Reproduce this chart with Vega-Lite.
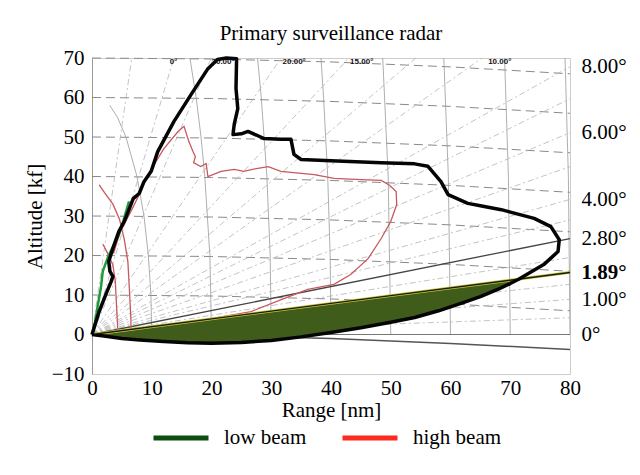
{
  "$schema": "https://vega.github.io/schema/vega-lite/v6.json",
  "width": 478,
  "height": 316,
  "padding": {"left": 24, "top": 23, "right": 5, "bottom": 5},
  "background": "white",
  "title": {"text": "Primary surveillance radar", "font": "Liberation Serif", "fontSize": 21, "fontWeight": "normal", "color": "#000000", "offset": 3},
  "config": {
    "view": {"stroke": "#cccccc", "strokeWidth": 1},
    "axis": {"labelFont": "Liberation Serif", "titleFont": "Liberation Serif", "labelFontSize": 21, "titleFontSize": 21, "titleFontWeight": "normal", "labelColor": "#000000", "titleColor": "#000000", "grid": false}
  },
  "datasets": {
    "alt": [
      {"h": 10, "x": 0, "y": 10}, {"h": 10, "x": 20, "y": 9.75}, {"h": 10, "x": 40, "y": 9}, {"h": 10, "x": 60, "y": 7.75}, {"h": 10, "x": 80, "y": 6},
      {"h": 20, "x": 0, "y": 20}, {"h": 20, "x": 20, "y": 19.75}, {"h": 20, "x": 40, "y": 19}, {"h": 20, "x": 60, "y": 17.75}, {"h": 20, "x": 80, "y": 16},
      {"h": 30, "x": 0, "y": 30}, {"h": 30, "x": 20, "y": 29.75}, {"h": 30, "x": 40, "y": 29}, {"h": 30, "x": 60, "y": 27.75}, {"h": 30, "x": 80, "y": 26},
      {"h": 40, "x": 0, "y": 40}, {"h": 40, "x": 20, "y": 39.75}, {"h": 40, "x": 40, "y": 39}, {"h": 40, "x": 60, "y": 37.75}, {"h": 40, "x": 80, "y": 36},
      {"h": 50, "x": 0, "y": 50}, {"h": 50, "x": 20, "y": 49.75}, {"h": 50, "x": 40, "y": 49}, {"h": 50, "x": 60, "y": 47.75}, {"h": 50, "x": 80, "y": 46},
      {"h": 60, "x": 0, "y": 60}, {"h": 60, "x": 20, "y": 59.75}, {"h": 60, "x": 40, "y": 59}, {"h": 60, "x": 60, "y": 57.75}, {"h": 60, "x": 80, "y": 56},
      {"h": 70, "x": 0, "y": 70}, {"h": 70, "x": 20, "y": 69.75}, {"h": 70, "x": 40, "y": 69}, {"h": 70, "x": 60, "y": 67.75}, {"h": 70, "x": 80, "y": 66}
    ],
    "arcs": [
      {"r": 10, "x": 10, "y": 0}, {"r": 10, "x": 9.86, "y": 10}, {"r": 10, "x": 9.43, "y": 20}, {"r": 10, "x": 8.7, "y": 30}, {"r": 10, "x": 7.53, "y": 40}, {"r": 10, "x": 5.68, "y": 50}, {"r": 10, "x": 4.25, "y": 55}, {"r": 10, "x": 2.98, "y": 58},
      {"r": 20, "x": 20, "y": 0}, {"r": 20, "x": 19.73, "y": 20}, {"r": 20, "x": 18.88, "y": 40}, {"r": 20, "x": 18.25, "y": 50}, {"r": 20, "x": 17.43, "y": 60}, {"r": 20, "x": 16.39, "y": 70},
      {"r": 30, "x": 30, "y": 0}, {"r": 30, "x": 29.82, "y": 20}, {"r": 30, "x": 29.27, "y": 40}, {"r": 30, "x": 28.33, "y": 60}, {"r": 30, "x": 27.71, "y": 70},
      {"r": 40, "x": 40, "y": 0}, {"r": 40, "x": 39.86, "y": 20}, {"r": 40, "x": 39.45, "y": 40}, {"r": 40, "x": 38.76, "y": 60}, {"r": 40, "x": 38.32, "y": 70},
      {"r": 50, "x": 50, "y": 0}, {"r": 50, "x": 49.57, "y": 40}, {"r": 50, "x": 48.66, "y": 70},
      {"r": 60, "x": 60, "y": 0}, {"r": 60, "x": 59.64, "y": 40}, {"r": 60, "x": 58.88, "y": 70},
      {"r": 70, "x": 70, "y": 0}, {"r": 70, "x": 69.69, "y": 40}, {"r": 70, "x": 69.05, "y": 70},
      {"r": 80, "x": 80, "y": 0}, {"r": 80, "x": 79.73, "y": 40}, {"r": 80, "x": 79.17, "y": 70}
    ],
    "fan": [
      {"a": 0.5, "x": 0, "y": 0}, {"a": 0.5, "x": 80, "y": 4.24},
      {"a": 1, "x": 0, "y": 0}, {"a": 1, "x": 80, "y": 8.9},
      {"a": 1.5, "x": 0, "y": 0}, {"a": 1.5, "x": 80, "y": 12.7},
      {"a": 2.3, "x": 0, "y": 0}, {"a": 2.3, "x": 80, "y": 19.5},
      {"a": 3.4, "x": 0, "y": 0}, {"a": 3.4, "x": 80, "y": 29},
      {"a": 4, "x": 0, "y": 0}, {"a": 4, "x": 80, "y": 34.2},
      {"a": 5, "x": 0, "y": 0}, {"a": 5, "x": 80, "y": 42.5},
      {"a": 6, "x": 0, "y": 0}, {"a": 6, "x": 80, "y": 51.1},
      {"a": 7, "x": 0, "y": 0}, {"a": 7, "x": 80, "y": 59.7},
      {"a": 8, "x": 0, "y": 0}, {"a": 8, "x": 80, "y": 67.8},
      {"a": 10, "x": 0, "y": 0}, {"a": 10, "x": 65.3, "y": 70},
      {"a": 12, "x": 0, "y": 0}, {"a": 12, "x": 54.2, "y": 70},
      {"a": 15, "x": 0, "y": 0}, {"a": 15, "x": 43, "y": 70},
      {"a": 20, "x": 0, "y": 0}, {"a": 20, "x": 31.65, "y": 70},
      {"a": 30, "x": 0, "y": 0}, {"a": 30, "x": 19.96, "y": 70},
      {"a": 40, "x": 0, "y": 0}, {"a": 40, "x": 13.7, "y": 70},
      {"a": 60, "x": 0, "y": 0}, {"a": 60, "x": 6.65, "y": 70}
    ],
    "zero": [
      {"x": 0, "y": 0}, {"x": 80, "y": 0}
    ],
    "zeroDeg": [
      {"x": 0, "y": 0}, {"x": 20, "y": -0.25}, {"x": 40, "y": -1}, {"x": 60, "y": -2.25}, {"x": 80, "y": -3.8}
    ],
    "deg28": [
      {"x": 0, "y": 0}, {"x": 80, "y": 24.3}
    ],
    "deg189": [
      {"x": 0, "y": 0}, {"x": 20, "y": 3.95}, {"x": 50, "y": 9.85}, {"x": 80, "y": 15.7}
    ],
    "fill": [
      {"x": 0, "lo": 0, "hi": 0}, {"x": 2, "lo": -0.4, "hi": 0.39}, {"x": 5, "lo": -1.0, "hi": 0.98}, {"x": 8, "lo": -1.4, "hi": 1.57},
      {"x": 12, "lo": -1.8, "hi": 2.36}, {"x": 16, "lo": -2.1, "hi": 3.14}, {"x": 20, "lo": -2.2, "hi": 3.93}, {"x": 25, "lo": -2.0, "hi": 4.91},
      {"x": 30, "lo": -1.5, "hi": 5.89}, {"x": 35, "lo": -0.6, "hi": 6.87}, {"x": 40, "lo": 0.5, "hi": 7.85}, {"x": 45, "lo": 1.7, "hi": 8.84},
      {"x": 50, "lo": 3.1, "hi": 9.82}, {"x": 54, "lo": 4.3, "hi": 10.6}, {"x": 58, "lo": 6.0, "hi": 11.39}, {"x": 62, "lo": 8.0, "hi": 12.17},
      {"x": 65, "lo": 9.6, "hi": 12.76}, {"x": 68, "lo": 11.5, "hi": 13.35}, {"x": 70, "lo": 12.9, "hi": 13.74}, {"x": 71.4, "lo": 14.0, "hi": 14.02}
    ],
    "envelope": [
      {"i": 0, "x": 0, "y": 0}, {"i": 1, "x": 1.2, "y": 5.8}, {"i": 2, "x": 2.3, "y": 10.1}, {"i": 3, "x": 3.2, "y": 13.4},
      {"i": 4, "x": 3.5, "y": 14.7}, {"i": 5, "x": 3.0, "y": 16.0}, {"i": 6, "x": 2.8, "y": 18.5}, {"i": 7, "x": 3.5, "y": 21.8},
      {"i": 8, "x": 4.5, "y": 26.1}, {"i": 9, "x": 5.4, "y": 28.6}, {"i": 10, "x": 6.9, "y": 34.4}, {"i": 11, "x": 7.9, "y": 35.7},
      {"i": 12, "x": 8.7, "y": 38.7}, {"i": 13, "x": 9.9, "y": 41.3}, {"i": 14, "x": 11.0, "y": 46.3}, {"i": 15, "x": 13.7, "y": 53.9},
      {"i": 16, "x": 16.6, "y": 60.8}, {"i": 17, "x": 19.4, "y": 67.3}, {"i": 18, "x": 21.0, "y": 69.6}, {"i": 19, "x": 22.5, "y": 70},
      {"i": 20, "x": 24.2, "y": 69.8}, {"i": 21, "x": 24.1, "y": 62.3}, {"i": 22, "x": 24.4, "y": 57.2}, {"i": 23, "x": 23.8, "y": 53.2},
      {"i": 24, "x": 23.6, "y": 50.6}, {"i": 25, "x": 25.0, "y": 50.8}, {"i": 26, "x": 26.1, "y": 51.4}, {"i": 27, "x": 27.5, "y": 50.5},
      {"i": 28, "x": 28.8, "y": 49.6}, {"i": 29, "x": 31.6, "y": 49.4}, {"i": 30, "x": 33.3, "y": 49.4}, {"i": 31, "x": 33.8, "y": 45.6},
      {"i": 32, "x": 35, "y": 44.3}, {"i": 33, "x": 40, "y": 44.0}, {"i": 34, "x": 48.4, "y": 43.5}, {"i": 35, "x": 54, "y": 43.2},
      {"i": 36, "x": 56.2, "y": 42.6}, {"i": 37, "x": 58.4, "y": 38.7}, {"i": 38, "x": 59.6, "y": 35.4}, {"i": 39, "x": 62.9, "y": 33.2},
      {"i": 40, "x": 65, "y": 32.6}, {"i": 41, "x": 68.5, "y": 31.6}, {"i": 42, "x": 74.0, "y": 29.4}, {"i": 43, "x": 76.8, "y": 27.3},
      {"i": 44, "x": 78.2, "y": 24}, {"i": 45, "x": 78.0, "y": 21}, {"i": 46, "x": 75.6, "y": 17.7}, {"i": 47, "x": 71.4, "y": 14.0},
      {"i": 48, "x": 70, "y": 12.9}, {"i": 49, "x": 68, "y": 11.5}, {"i": 50, "x": 65, "y": 9.6}, {"i": 51, "x": 62, "y": 8.0},
      {"i": 52, "x": 58, "y": 6.0}, {"i": 53, "x": 54, "y": 4.3}, {"i": 54, "x": 50, "y": 3.1}, {"i": 55, "x": 45, "y": 1.7},
      {"i": 56, "x": 40, "y": 0.5}, {"i": 57, "x": 35, "y": -0.6}, {"i": 58, "x": 30, "y": -1.5}, {"i": 59, "x": 25, "y": -2.0},
      {"i": 60, "x": 20, "y": -2.2}, {"i": 61, "x": 16, "y": -2.1}, {"i": 62, "x": 12, "y": -1.8}, {"i": 63, "x": 8, "y": -1.4},
      {"i": 64, "x": 5, "y": -1.0}, {"i": 65, "x": 2, "y": -0.4}, {"i": 66, "x": 0, "y": 0}
    ],
    "red": [
      {"k": "main", "i": 0, "x": 3.6, "y": 20.5}, {"k": "main", "i": 1, "x": 4.3, "y": 24}, {"k": "main", "i": 2, "x": 4.9, "y": 26.6},
      {"k": "main", "i": 3, "x": 6.5, "y": 31.1}, {"k": "main", "i": 4, "x": 7.6, "y": 34.5}, {"k": "main", "i": 5, "x": 9.4, "y": 40.5},
      {"k": "main", "i": 6, "x": 12.0, "y": 47}, {"k": "main", "i": 7, "x": 14.4, "y": 51.4}, {"k": "main", "i": 8, "x": 15.4, "y": 52.7},
      {"k": "main", "i": 9, "x": 16.2, "y": 48.9}, {"k": "main", "i": 10, "x": 16.9, "y": 46.3}, {"k": "main", "i": 11, "x": 17.3, "y": 45},
      {"k": "main", "i": 12, "x": 17.0, "y": 43.5}, {"k": "main", "i": 13, "x": 18.2, "y": 42.5}, {"k": "main", "i": 14, "x": 19.1, "y": 43.3},
      {"k": "main", "i": 15, "x": 19.4, "y": 40.0}, {"k": "main", "i": 16, "x": 21.6, "y": 41.3}, {"k": "main", "i": 17, "x": 23.8, "y": 41.8},
      {"k": "main", "i": 18, "x": 25.4, "y": 41.3}, {"k": "main", "i": 19, "x": 27.5, "y": 42}, {"k": "main", "i": 20, "x": 29.5, "y": 42.5},
      {"k": "main", "i": 21, "x": 31.6, "y": 41.3}, {"k": "main", "i": 22, "x": 37.2, "y": 40.5}, {"k": "main", "i": 23, "x": 40.5, "y": 39.5},
      {"k": "main", "i": 24, "x": 45, "y": 39.2}, {"k": "main", "i": 25, "x": 48.4, "y": 39.0}, {"k": "main", "i": 26, "x": 49.8, "y": 37.8},
      {"k": "main", "i": 27, "x": 50.9, "y": 36.2}, {"k": "main", "i": 28, "x": 51.0, "y": 32.9}, {"k": "main", "i": 29, "x": 50.0, "y": 28.6},
      {"k": "main", "i": 30, "x": 48.4, "y": 24.3}, {"k": "main", "i": 31, "x": 46.2, "y": 19.2}, {"k": "main", "i": 32, "x": 43.3, "y": 15.2},
      {"k": "main", "i": 33, "x": 40.5, "y": 12.7}, {"k": "main", "i": 34, "x": 36.1, "y": 11.4}, {"k": "main", "i": 35, "x": 32.1, "y": 9.1},
      {"k": "main", "i": 36, "x": 26.6, "y": 5.8}, {"k": "main", "i": 37, "x": 20, "y": 4.0}, {"k": "main", "i": 38, "x": 12, "y": 2.4},
      {"k": "main", "i": 39, "x": 5, "y": 1.0}, {"k": "main", "i": 40, "x": 0, "y": 0},
      {"k": "near1", "i": 0, "x": 1.2, "y": 37.9}, {"k": "near1", "i": 1, "x": 2.3, "y": 35.5}, {"k": "near1", "i": 2, "x": 3.5, "y": 33},
      {"k": "near1", "i": 3, "x": 4.6, "y": 29.2}, {"k": "near1", "i": 4, "x": 5.4, "y": 24.1}, {"k": "near1", "i": 5, "x": 6.0, "y": 18.5},
      {"k": "near1", "i": 6, "x": 6.25, "y": 11.7}, {"k": "near1", "i": 7, "x": 6.5, "y": 4.1}, {"k": "near1", "i": 8, "x": 6.55, "y": 0},
      {"k": "near2", "i": 0, "x": 1.8, "y": 22.9}, {"k": "near2", "i": 1, "x": 2.6, "y": 20.6}, {"k": "near2", "i": 2, "x": 3.5, "y": 17.6},
      {"k": "near2", "i": 3, "x": 3.9, "y": 13.4}, {"k": "near2", "i": 4, "x": 4.1, "y": 7.5}, {"k": "near2", "i": 5, "x": 4.3, "y": 1.6},
      {"k": "near2", "i": 6, "x": 4.35, "y": 0}
    ],
    "green": [
      {"i": 0, "x": 0, "y": 0}, {"i": 1, "x": 0.5, "y": 3}, {"i": 2, "x": 1.0, "y": 7.6}, {"i": 3, "x": 1.5, "y": 12},
      {"i": 4, "x": 1.8, "y": 16}, {"i": 5, "x": 2.7, "y": 19.7}, {"i": 6, "x": 3.6, "y": 22.5}, {"i": 7, "x": 4.5, "y": 25.3},
      {"i": 8, "x": 5.3, "y": 29}, {"i": 9, "x": 6.2, "y": 33.7}
    ],
    "toplabels": [
      {"x": 13.0, "y": 68.9, "t": "0°"}, {"x": 20.0, "y": 68.9, "t": "30.00°"}, {"x": 31.9, "y": 68.9, "t": "20.00°"},
      {"x": 43.2, "y": 68.9, "t": "15.00°"}, {"x": 66.3, "y": 68.9, "t": "10.00°"}
    ],
    "legendItems": [
      {"beam": "low beam"}, {"beam": "high beam"}
    ]
  },
  "encoding": {
    "x": {
      "field": "x", "type": "quantitative",
      "scale": {"domain": [0, 80], "nice": false, "zero": false},
      "axis": {"values": [0, 10, 20, 30, 40, 50, 60, 70, 80], "title": "Range [nm]", "ticks": false, "domainColor": "#cccccc", "labelFlush": false, "labelPadding": 3, "titlePadding": 1}
    },
    "y": {"field": "y", "type": "quantitative", "scale": {"domain": [-10, 70], "nice": false, "zero": false}, "axis": null}
  },
  "resolve": {"axis": {"y": "independent"}},
  "layer": [
    {
      "data": {"name": "alt"},
      "mark": {"type": "line", "color": "#8a8a8a", "strokeWidth": 1, "strokeDash": [9, 5]},
      "encoding": {
        "detail": {"field": "h"},
        "y": {"field": "y", "type": "quantitative", "axis": {"orient": "left", "values": [-10, 0, 10, 20, 30, 40, 50, 60, 70], "title": "Altitude [kf]", "ticks": false, "domainColor": "#999999", "labelPadding": 8, "titlePadding": 6}}
      }
    },
    {
      "data": {"name": "arcs"},
      "mark": {"type": "line", "color": "#999999", "strokeWidth": 0.8},
      "encoding": {"detail": {"field": "r"}}
    },
    {
      "data": {"name": "fan"},
      "mark": {"type": "line", "color": "#b4b4b4", "strokeWidth": 0.8, "strokeDash": [6, 3, 2, 3]},
      "encoding": {"detail": {"field": "a"}}
    },
    {
      "data": {"name": "zero"},
      "mark": {"type": "line", "color": "#777777", "strokeWidth": 1},
      "encoding": {}
    },
    {
      "data": {"name": "zeroDeg"},
      "mark": {"type": "line", "color": "#555555", "strokeWidth": 1.5},
      "encoding": {}
    },
    {
      "data": {"name": "deg28"},
      "mark": {"type": "line", "color": "#444444", "strokeWidth": 1.3},
      "encoding": {}
    },
    {
      "data": {"name": "red"},
      "mark": {"type": "line", "color": "#c8585e", "strokeWidth": 1.3},
      "encoding": {"detail": {"field": "k"}, "order": {"field": "i"}}
    },
    {
      "data": {"name": "fill"},
      "mark": {"type": "area", "color": "#405c1a", "opacity": 1},
      "encoding": {
        "y": {"field": "lo", "type": "quantitative", "axis": null},
        "y2": {"field": "hi"}
      }
    },
    {
      "data": {"name": "deg189"},
      "mark": {"type": "line", "color": "#c6c632", "strokeWidth": 2.8},
      "encoding": {
        "y": {"field": "y", "type": "quantitative", "axis": {"orient": "right", "values": [0, 8.9, 15.7, 24.3, 34.2, 51.1, 67.8], "labelExpr": "datum.value == 0 ? '0°' : datum.value == 8.9 ? '1.00°' : datum.value == 15.7 ? '1.89°' : datum.value == 24.3 ? '2.80°' : datum.value == 34.2 ? '4.00°' : datum.value == 51.1 ? '6.00°' : '8.00°'", "labelFontWeight": {"condition": {"test": "datum.value == 15.7", "value": "bold"}, "value": "normal"}, "title": null, "ticks": false, "domain": false, "labelPadding": 11}}
      }
    },
    {
      "data": {"name": "deg189"},
      "mark": {"type": "line", "color": "#1a1a1a", "strokeWidth": 1.4},
      "encoding": {}
    },
    {
      "data": {"name": "green"},
      "mark": {"type": "line", "color": "#1f9a3c", "strokeWidth": 2.5},
      "encoding": {"order": {"field": "i"}}
    },
    {
      "data": {"name": "envelope"},
      "mark": {"type": "line", "color": "#050505", "strokeWidth": 3.5, "strokeJoin": "round"},
      "encoding": {"order": {"field": "i"}}
    },
    {
      "data": {"name": "toplabels"},
      "mark": {"type": "text", "font": "Liberation Sans", "fontSize": 8, "fontWeight": "bold", "color": "#111111", "align": "left", "baseline": "middle"},
      "encoding": {"text": {"field": "t"}}
    },
    {
      "data": {"name": "legendItems"},
      "mark": {"type": "point", "opacity": 0},
      "encoding": {
        "color": {
          "field": "beam", "type": "nominal",
          "scale": {"domain": ["low beam", "high beam"], "range": ["#0d4d12", "#ff2a1f"]},
          "legend": {"orient": "none", "legendX": 59, "legendY": 350, "direction": "horizontal", "title": null, "symbolType": "stroke", "symbolStrokeWidth": 5, "symbolSize": 3025, "symbolOpacity": 1, "labelFont": "Liberation Serif", "labelFontSize": 21, "labelColor": "#000000", "columnPadding": 25, "labelOffset": 13}
        }
      }
    }
  ]
}
